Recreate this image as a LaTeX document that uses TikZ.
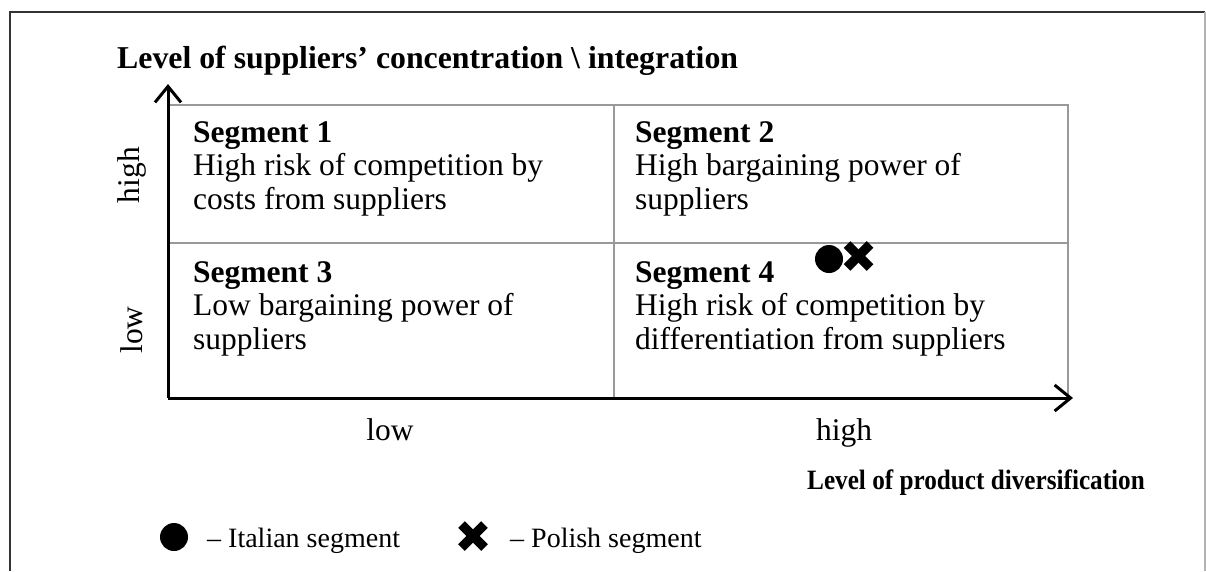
\documentclass[tikz,border=0pt]{standalone}
\usepackage{fontspec}
\setmainfont{Liberation Serif}
\newfontfamily\narrowserif[FakeStretch=0.9]{Liberation Serif}
\usetikzlibrary{arrows.meta}
\begin{document}
\begin{tikzpicture}[x=1pt,y=-1pt,
  axis/.style={line width=3pt,-{Straight Barb[length=16pt,width=26pt,line width=3pt]}},
  gridline/.style={draw=black!40,line width=2pt},
  body/.style={font=\fontsize{28}{33.5}\selectfont,inner sep=0pt},
  segtext/.style={font=\fontsize{31.5}{33.5}\selectfont,inner sep=0pt,align=left,anchor=north west},
  level/.style={font=\fontsize{31.5}{33}\selectfont,inner sep=0pt},
  heading/.style={font=\fontsize{31.8}{34}\selectfont\bfseries,inner sep=0pt},
  dotmark/.style={circle,fill=black,inner sep=0pt,minimum size=28pt},
  pics/xmark/.style={code={
    \draw[line width=9.5pt] (-11.5,-11.5) -- (11.5,11.5);
    \draw[line width=9.5pt] (-11.5,11.5) -- (11.5,-11.5);}}
]
\useasboundingbox (0,0) rectangle (1206,571);
% open frame
\draw[line width=1.5pt,black!80] (10,571) -- (10,12) -- (1205,12);
\draw[line width=1.5pt,black!30] (1205,12) -- (1205,571);

% quadrant grid
\coordinate (o) at (168,398);
\coordinate (tl) at (168,105);
\coordinate (tm) at (614,105);
\coordinate (tr) at (1068,105);
\coordinate (ml) at (168,243);
\coordinate (mr) at (1068,243);
\coordinate (bm) at (614,398);
\coordinate (br) at (1068,398);
\draw[gridline] (tl) -- (tr) -- (br);
\draw[gridline] (ml) -- (mr);
\draw[gridline] (tm) -- (bm);

% axes
\coordinate (ytip) at (168,84);
\coordinate (xtip) at (1073,398);
\draw[axis] (o) -- (ytip);
\draw[axis] (o) -- (xtip);

% axis titles
\node[heading,anchor=base west] (ytitle) at (117,68) {Level of suppliers’ concentration \textbackslash{} integration};
\node[heading,font=\narrowserif\fontsize{28}{32}\selectfont\bfseries,anchor=base east] (xtitle) at (1145,489) {Level of product diversification};

% axis level labels
\node[level,rotate=90] (yhigh) at (132,175) {high};
\node[level,rotate=90] (ylow) at (132,330) {low};
\node[level,anchor=base] (xlow) at (390,440) {low};
\node[level,anchor=base] (xhigh) at (844,440) {high};

% segments
\node[segtext] (s1) at (193,121) {\textbf{Segment 1}\\High risk of competition by\\costs from suppliers};
\node[segtext] (s2) at (635,121) {\textbf{Segment 2}\\High bargaining power of\\suppliers};
\node[segtext] (s3) at (193,261) {\textbf{Segment 3}\\Low bargaining power of\\suppliers};
\node[segtext] (s4) at (635,261) {\textbf{Segment 4}\\High risk of competition by\\differentiation from suppliers};

% positions of the two segments
\node[dotmark] (it) at (829,259) {};
\pic at (858.5,256) {xmark};

% legend
\node[dotmark] (legit) at (174,537) {};
\node[body,anchor=base west] (legittext) at (207,547) {– Italian segment};
\pic at (473,536) {xmark};
\node[body,anchor=base west] (legpltext) at (510,547) {– Polish segment};
\end{tikzpicture}
\end{document}
